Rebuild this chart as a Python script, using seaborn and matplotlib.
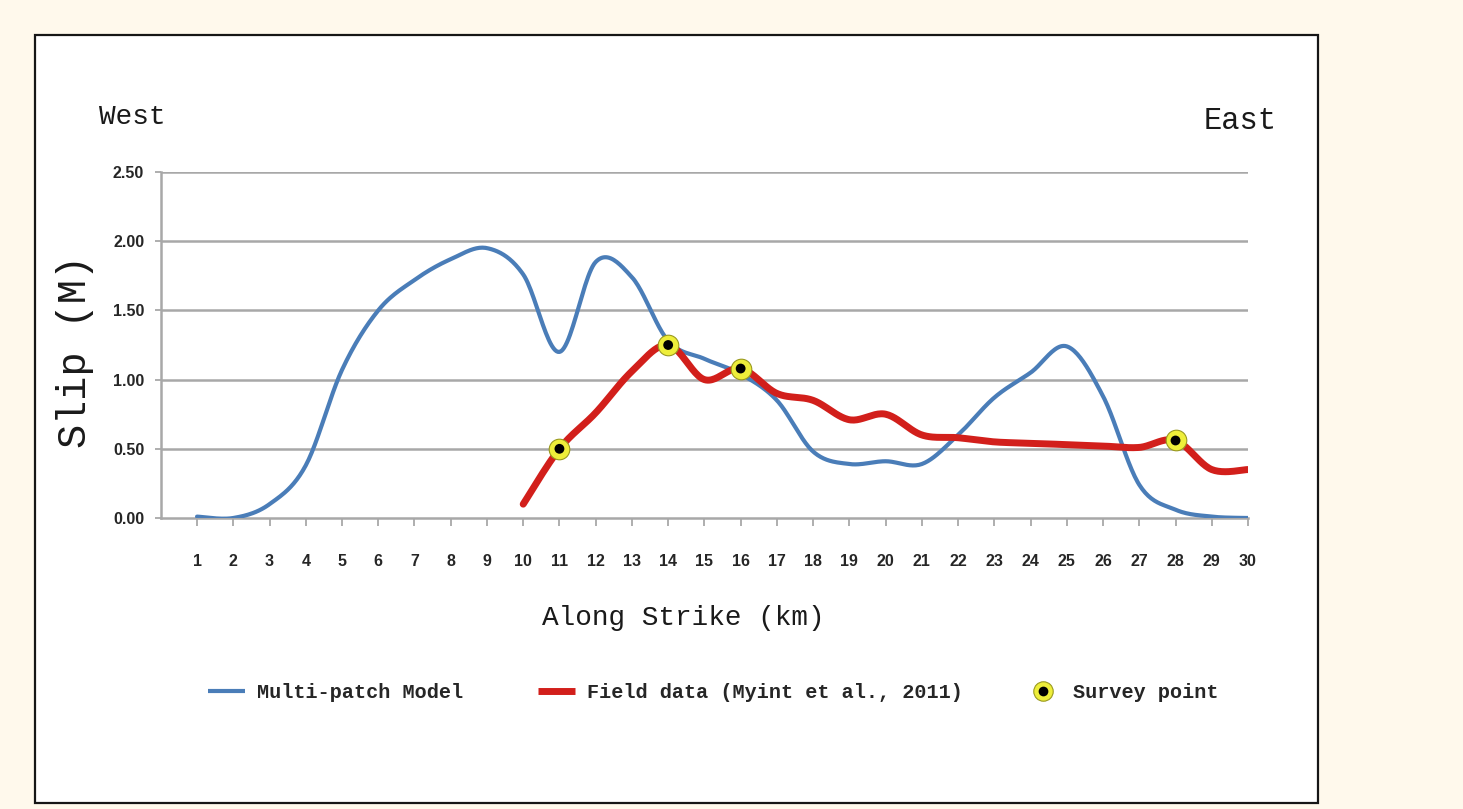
import numpy as np
import pandas as pd
import matplotlib
matplotlib.use("Agg")
import matplotlib.pyplot as plt
from matplotlib.lines import Line2D
from matplotlib.patches import Rectangle
from matplotlib.font_manager import FontProperties
import seaborn as sns

# ---- data -------------------------------------------------------------
km_model = list(range(1, 31))
slip_model = [0.01, 0.00, 0.10, 0.38, 1.07, 1.50, 1.72, 1.87, 1.95, 1.76,
              1.20, 1.85, 1.74, 1.28, 1.15, 1.04, 0.85, 0.48, 0.39, 0.41,
              0.39, 0.60, 0.87, 1.05, 1.24, 0.88, 0.24, 0.06, 0.01, 0.00]

km_field = list(range(10, 31))
slip_field = [0.10, 0.50, 0.76, 1.06, 1.25, 1.00, 1.08, 0.90, 0.85, 0.71,
              0.75, 0.60, 0.58, 0.55, 0.54, 0.53, 0.52, 0.51, 0.56, 0.35,
              0.35]

km_survey = [11, 14, 16, 28]

x_ticks = list(range(1, 31))
y_ticks = [0.0, 0.5, 1.0, 1.5, 2.0, 2.5]
y_tick_labels = ["0.00", "0.50", "1.00", "1.50", "2.00", "2.50"]

label_model = "Multi-patch Model"
label_field = "Field data (Myint et al., 2011)"
label_survey = "Survey point"

# ---- styling ----------------------------------------------------------
BLUE = "#4A7DB8"
RED = "#D21F1B"
GRID = "#A8A8A8"
PAGE = "#FFF9EC"
YELLOW = "#EEEE3A"
MONO = ["Liberation Mono", "DejaVu Sans Mono"]
TICKFONT = ["Liberation Sans", "DejaVu Sans"]

sns.set_style("white")
plt.rcParams["font.family"] = MONO

W, H = 1463, 809
fig = plt.figure(figsize=(W / 100, H / 100), dpi=100, facecolor=PAGE)

# white panel with a dark frame, kept behind the axes
fig.patches.append(Rectangle((35 / W, 1 - 803 / H), (1318 - 35) / W, (803 - 35) / H,
                             transform=fig.transFigure, facecolor="white",
                             edgecolor="#161616", lw=1.6, zorder=-5))

x0, x30, ytop, ybot = 160.8, 1248.0, 172.0, 518.0
ax = fig.add_axes([x0 / W, 1 - ybot / H, (x30 - x0) / W, (ybot - ytop) / H])
ax.set_zorder(2)
ax.patch.set_alpha(0)


def smooth_curve(xs, ys, n=24):
    """Smoothed polyline through the points (Bezier / Catmull-Rom style)."""
    pts = np.column_stack([xs, ys]).astype(float)
    pad = np.vstack([pts[0], pts, pts[-1]])
    t = np.linspace(0, 1, n, endpoint=False)[:, None]
    segs = []
    for i in range(len(pts) - 1):
        p0, p1, p2, p3 = pad[i], pad[i + 1], pad[i + 2], pad[i + 3]
        c1 = p1 + (p2 - p0) / 6.0
        c2 = p2 - (p3 - p1) / 6.0
        segs.append((1 - t) ** 3 * p1 + 3 * (1 - t) ** 2 * t * c1
                    + 3 * (1 - t) * t ** 2 * c2 + t ** 3 * p2)
    segs.append(pts[-1:])
    out = np.vstack(segs)
    return pd.DataFrame({"km": out[:, 0], "slip": out[:, 1]})


model_df = smooth_curve(km_model, slip_model)
field_df = smooth_curve(km_field, slip_field)
survey_df = pd.DataFrame({"km": km_survey,
                          "slip": [slip_field[km_field.index(k)] for k in km_survey]})

# grid lines
for yv in y_ticks[1:]:
    ax.axhline(yv, color=GRID, lw=1.8, zorder=1)

sns.lineplot(data=model_df, x="km", y="slip", sort=False, estimator=None,
             color=BLUE, lw=3.0, ax=ax, zorder=3, solid_capstyle="round")
sns.lineplot(data=field_df, x="km", y="slip", sort=False, estimator=None,
             color=RED, lw=5.0, ax=ax, zorder=4, solid_capstyle="round")
sns.scatterplot(data=survey_df, x="km", y="slip", s=220, color=YELLOW,
                edgecolor="#9A9A20", linewidth=0.8, ax=ax, zorder=5)
sns.scatterplot(data=survey_df, x="km", y="slip", s=50, color="black",
                edgecolor="none", ax=ax, zorder=6)

ax.set_xlim(0, 30)
ax.set_ylim(0, 2.5)
ax.set_xlabel("")
ax.set_ylabel("")

ax.set_xticks(x_ticks)
ax.set_xticklabels([str(v) for v in x_ticks])
ax.set_yticks(y_ticks)
ax.set_yticklabels(y_tick_labels)
for lab in ax.get_xticklabels():
    lab.set_fontproperties(FontProperties(family=TICKFONT, weight="bold", size=11.5))
    lab.set_color("#262626")
for lab in ax.get_yticklabels():
    lab.set_fontproperties(FontProperties(family=TICKFONT, weight="bold", size=11.5))
    lab.set_color("#262626")
ax.tick_params(axis="x", bottom=True, direction="out", length=6, width=1.3,
               color=GRID, pad=20)
ax.tick_params(axis="y", left=True, direction="out", length=4, width=1.3,
               color=GRID, pad=8)

for side in ("top", "right"):
    ax.spines[side].set_visible(False)
for side in ("left", "bottom"):
    ax.spines[side].set_color(GRID)
    ax.spines[side].set_linewidth(1.8)

# titles and axis labels
fig.text(75 / W, 1 - 352 / H, "Slip (M)", rotation=90, ha="center", va="center",
         family=MONO, size=29, color="#1a1a1a")
fig.text(683 / W, 1 - 618 / H, "Along Strike (km)", ha="center", va="center",
         family=MONO, size=20, color="#1a1a1a")
fig.text(132 / W, 1 - 117 / H, "West", ha="center", va="center",
         family=MONO, size=20, color="#1a1a1a")
fig.text(1240 / W, 1 - 121 / H, "East", ha="center", va="center",
         family=MONO, size=22, color="#1a1a1a")

# legend: one entry per block along the bottom
h_model = Line2D([], [], color=BLUE, lw=3.0, solid_capstyle="butt")
h_field = Line2D([], [], color=RED, lw=5.0, solid_capstyle="butt")
h_survey = (Line2D([], [], ls="none", marker="o", ms=14, mfc=YELLOW, mec="#9A9A20", mew=0.8),
            Line2D([], [], ls="none", marker="o", ms=7, mfc="black", mec="none"))
legend_font = FontProperties(family=MONO, weight="bold", size=14.5)
for handle, label, left in [(h_model, label_model, 208),
                            (h_field, label_field, 538),
                            (h_survey, label_survey, 1024)]:
    fig.legend([handle], [label], loc="center left",
               bbox_to_anchor=(left / W, 1 - 693 / H), frameon=False,
               borderpad=0, borderaxespad=0, handlelength=1.85,
               handletextpad=0.6, numpoints=1, prop=legend_font)

fig.savefig("out.png", dpi=100, facecolor=PAGE)
